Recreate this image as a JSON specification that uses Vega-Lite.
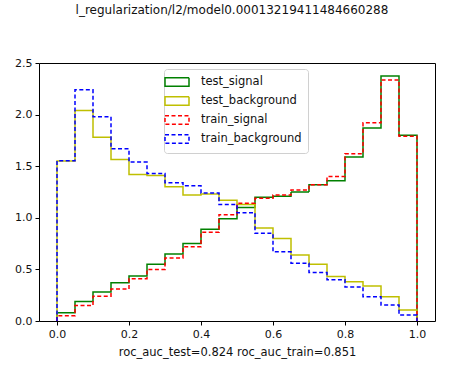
{
  "$schema": "https://vega.github.io/schema/vega-lite/v6.json",
  "width": 396,
  "height": 258,
  "autosize": {"type": "none"},
  "padding": {"left": 39, "top": 63, "right": 17, "bottom": 44},
  "title": {"text": "l_regularization/l2/model0.00013219411484660288", "fontSize": 12, "fontWeight": "normal", "font": "DejaVu Sans", "color": "#111", "offset": 40, "dx": -5},
  "config": {
    "font": "DejaVu Sans",
    "view": {"stroke": "#000", "strokeWidth": 1},
    "axis": {"grid": false, "domain": false, "tickColor": "#000", "tickSize": 4, "labelFontSize": 11, "labelColor": "#111", "labelPadding": 3, "titleFontSize": 11.5, "titleFontWeight": "normal", "titleColor": "#111"}
  },
  "data": {"values": [
    {"s":"test_signal","x":0,"y":0,"i":0},
    {"s":"test_signal","x":0,"y":0.08,"i":1},
    {"s":"test_signal","x":0.05,"y":0.19,"i":2},
    {"s":"test_signal","x":0.1,"y":0.28,"i":3},
    {"s":"test_signal","x":0.15,"y":0.37,"i":4},
    {"s":"test_signal","x":0.2,"y":0.435,"i":5},
    {"s":"test_signal","x":0.25,"y":0.55,"i":6},
    {"s":"test_signal","x":0.3,"y":0.65,"i":7},
    {"s":"test_signal","x":0.35,"y":0.75,"i":8},
    {"s":"test_signal","x":0.4,"y":0.89,"i":9},
    {"s":"test_signal","x":0.45,"y":0.99,"i":10},
    {"s":"test_signal","x":0.5,"y":1.10,"i":11},
    {"s":"test_signal","x":0.55,"y":1.20,"i":12},
    {"s":"test_signal","x":0.6,"y":1.21,"i":13},
    {"s":"test_signal","x":0.65,"y":1.25,"i":14},
    {"s":"test_signal","x":0.7,"y":1.32,"i":15},
    {"s":"test_signal","x":0.75,"y":1.36,"i":16},
    {"s":"test_signal","x":0.8,"y":1.59,"i":17},
    {"s":"test_signal","x":0.85,"y":1.87,"i":18},
    {"s":"test_signal","x":0.9,"y":2.375,"i":19},
    {"s":"test_signal","x":0.95,"y":1.80,"i":20},
    {"s":"test_signal","x":1,"y":0,"i":21},
    {"s":"test_background","x":0,"y":0,"i":0},
    {"s":"test_background","x":0,"y":1.55,"i":1},
    {"s":"test_background","x":0.05,"y":2.04,"i":2},
    {"s":"test_background","x":0.1,"y":1.78,"i":3},
    {"s":"test_background","x":0.15,"y":1.565,"i":4},
    {"s":"test_background","x":0.2,"y":1.42,"i":5},
    {"s":"test_background","x":0.25,"y":1.41,"i":6},
    {"s":"test_background","x":0.3,"y":1.30,"i":7},
    {"s":"test_background","x":0.35,"y":1.22,"i":8},
    {"s":"test_background","x":0.4,"y":1.23,"i":9},
    {"s":"test_background","x":0.45,"y":1.17,"i":10},
    {"s":"test_background","x":0.5,"y":1.13,"i":11},
    {"s":"test_background","x":0.55,"y":0.90,"i":12},
    {"s":"test_background","x":0.6,"y":0.80,"i":13},
    {"s":"test_background","x":0.65,"y":0.64,"i":14},
    {"s":"test_background","x":0.7,"y":0.55,"i":15},
    {"s":"test_background","x":0.75,"y":0.43,"i":16},
    {"s":"test_background","x":0.8,"y":0.38,"i":17},
    {"s":"test_background","x":0.85,"y":0.34,"i":18},
    {"s":"test_background","x":0.9,"y":0.236,"i":19},
    {"s":"test_background","x":0.95,"y":0.107,"i":20},
    {"s":"test_background","x":1,"y":0,"i":21},
    {"s":"train_signal","x":0,"y":0,"i":0},
    {"s":"train_signal","x":0,"y":0.05,"i":1},
    {"s":"train_signal","x":0.05,"y":0.15,"i":2},
    {"s":"train_signal","x":0.1,"y":0.24,"i":3},
    {"s":"train_signal","x":0.15,"y":0.31,"i":4},
    {"s":"train_signal","x":0.2,"y":0.41,"i":5},
    {"s":"train_signal","x":0.25,"y":0.50,"i":6},
    {"s":"train_signal","x":0.3,"y":0.61,"i":7},
    {"s":"train_signal","x":0.35,"y":0.72,"i":8},
    {"s":"train_signal","x":0.4,"y":0.86,"i":9},
    {"s":"train_signal","x":0.45,"y":1.03,"i":10},
    {"s":"train_signal","x":0.5,"y":1.14,"i":11},
    {"s":"train_signal","x":0.55,"y":1.19,"i":12},
    {"s":"train_signal","x":0.6,"y":1.22,"i":13},
    {"s":"train_signal","x":0.65,"y":1.27,"i":14},
    {"s":"train_signal","x":0.7,"y":1.32,"i":15},
    {"s":"train_signal","x":0.75,"y":1.40,"i":16},
    {"s":"train_signal","x":0.8,"y":1.62,"i":17},
    {"s":"train_signal","x":0.85,"y":1.92,"i":18},
    {"s":"train_signal","x":0.9,"y":2.335,"i":19},
    {"s":"train_signal","x":0.95,"y":1.79,"i":20},
    {"s":"train_signal","x":1,"y":0,"i":21},
    {"s":"train_background","x":0,"y":0,"i":0},
    {"s":"train_background","x":0,"y":1.553,"i":1},
    {"s":"train_background","x":0.05,"y":2.24,"i":2},
    {"s":"train_background","x":0.1,"y":1.98,"i":3},
    {"s":"train_background","x":0.15,"y":1.67,"i":4},
    {"s":"train_background","x":0.2,"y":1.54,"i":5},
    {"s":"train_background","x":0.25,"y":1.43,"i":6},
    {"s":"train_background","x":0.3,"y":1.34,"i":7},
    {"s":"train_background","x":0.35,"y":1.31,"i":8},
    {"s":"train_background","x":0.4,"y":1.24,"i":9},
    {"s":"train_background","x":0.45,"y":1.13,"i":10},
    {"s":"train_background","x":0.5,"y":1.05,"i":11},
    {"s":"train_background","x":0.55,"y":0.85,"i":12},
    {"s":"train_background","x":0.6,"y":0.67,"i":13},
    {"s":"train_background","x":0.65,"y":0.56,"i":14},
    {"s":"train_background","x":0.7,"y":0.47,"i":15},
    {"s":"train_background","x":0.75,"y":0.40,"i":16},
    {"s":"train_background","x":0.8,"y":0.33,"i":17},
    {"s":"train_background","x":0.85,"y":0.236,"i":18},
    {"s":"train_background","x":0.9,"y":0.155,"i":19},
    {"s":"train_background","x":0.95,"y":0.058,"i":20},
    {"s":"train_background","x":1,"y":0,"i":21}
  ]},
  "mark": {"type": "line", "interpolate": "step-after", "strokeWidth": 1.5},
  "encoding": {
    "x": {"field": "x", "type": "quantitative", "scale": {"domain": [-0.05, 1.05], "nice": false, "zero": false},
          "axis": {"values": [0, 0.2, 0.4, 0.6, 0.8, 1.0], "format": ".1f", "title": "roc_auc_test=0.824 roc_auc_train=0.851", "titlePadding": 7}},
    "y": {"field": "y", "type": "quantitative", "scale": {"domain": [0, 2.5], "nice": false},
          "axis": {"values": [0, 0.5, 1, 1.5, 2, 2.5], "format": ".1f", "title": null}},
    "stroke": {"field": "s", "type": "nominal",
               "scale": {"domain": ["test_signal", "test_background", "train_signal", "train_background"], "range": ["#008000", "#bfbf00", "#ff0000", "#0000ff"]},
               "legend": {"orient": "none", "legendX": 125, "legendY": 6, "title": null, "symbolType": "M-2,-0.7H2V0.7H-2Z", "symbolSize": 144, "symbolFillColor": "transparent", "symbolStrokeWidth": 1.5, "labelFontSize": 11.5, "labelColor": "#111", "labelOffset": 17, "padding": 6, "rowPadding": 3, "strokeColor": "#d0d0d0", "fillColor": "rgba(255,255,255,0.85)", "cornerRadius": 3}},
    "strokeDash": {"field": "s", "type": "nominal",
                   "scale": {"domain": ["test_signal", "test_background", "train_signal", "train_background"], "range": [[1, 0], [1, 0], [4, 2.5], [4, 2.5]]},
                   "legend": {"orient": "none", "legendX": 125, "legendY": 6, "title": null, "symbolType": "M-2,-0.7H2V0.7H-2Z", "symbolSize": 144, "symbolFillColor": "transparent", "symbolStrokeWidth": 1.5, "labelFontSize": 11.5, "labelColor": "#111", "labelOffset": 17, "padding": 6, "rowPadding": 3, "strokeColor": "#d0d0d0", "fillColor": "rgba(255,255,255,0.85)", "cornerRadius": 3}},
    "order": {"field": "i", "type": "quantitative"}
  }
}
